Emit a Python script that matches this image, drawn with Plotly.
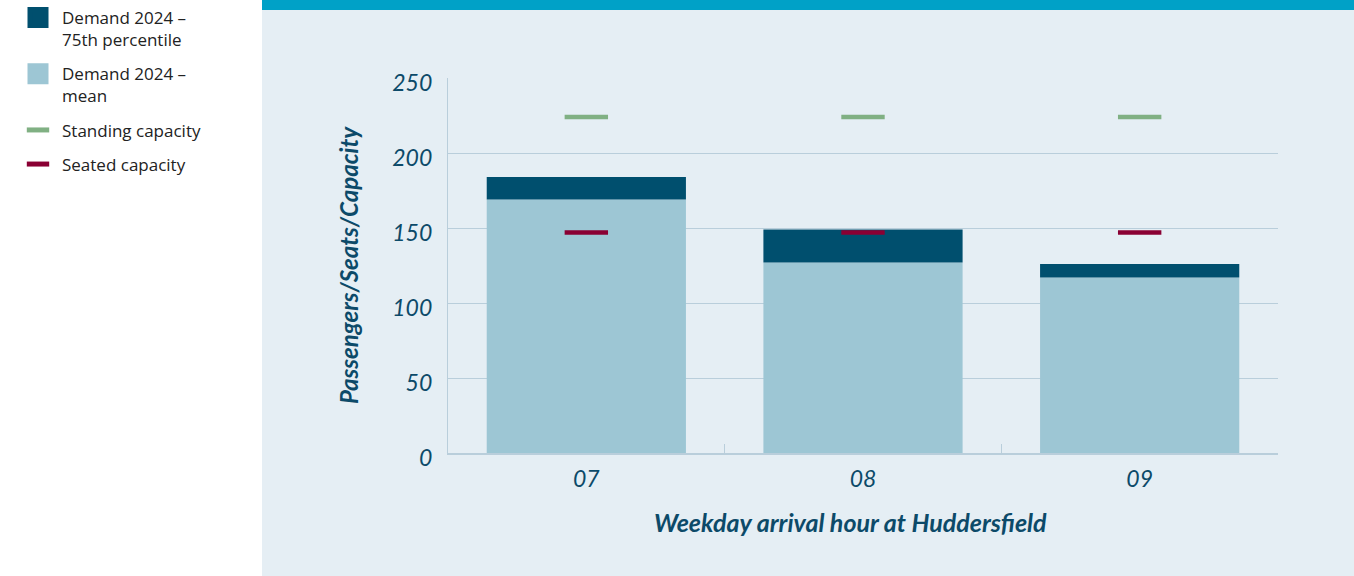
import plotly.graph_objects as go

hours = ["07", "08", "09"]
demand_p75 = [184, 149, 126]
demand_mean = [169, 127, 117]
standing_capacity = [224, 224, 224]
seated_capacity = [147, 147, 147]
y_ticks = [0, 50, 100, 150, 200, 250]

C_DARK = "#004F6E"
C_LIGHT = "#9DC6D4"
C_STAND = "#80B083"
C_SEAT = "#8A0033"
C_BG = "#E5EEF4"
C_GRID = "#B9CEDB"
C_AXTXT = "#0C4A69"
FONT = "Lato, 'Open Sans', sans-serif"
LEGFONT = "'Open Sans', Lato, sans-serif"

# segment above the mean, up to the 75th percentile
p75_above_mean = [p - m for p, m in zip(demand_p75, demand_mean)]

fig = go.Figure()

fig.add_trace(go.Bar(x=hours, y=demand_mean, marker=dict(color=C_LIGHT, line=dict(width=0)),
                     width=0.72, showlegend=False, hoverinfo="y"))
fig.add_trace(go.Bar(x=hours, y=p75_above_mean, base=demand_mean,
                     marker=dict(color=C_DARK, line=dict(width=0)),
                     width=0.72, showlegend=False, customdata=demand_p75,
                     hovertemplate="%{customdata}<extra></extra>"))
fig.add_trace(go.Scatter(x=hours, y=standing_capacity, mode="markers",
                         marker=dict(symbol="line-ew", size=31, line=dict(width=4.5, color=C_STAND)),
                         showlegend=False))
fig.add_trace(go.Scatter(x=hours, y=seated_capacity, mode="markers",
                         marker=dict(symbol="line-ew", size=31, line=dict(width=4.5, color=C_SEAT)),
                         showlegend=False))

leg = [
    ("Demand 2024 –<br>75th percentile", "square", C_DARK, 16, 5),
    ("Demand 2024 –<br>mean", "square", C_LIGHT, 16, 5),
    ("Standing capacity", "line-ew", C_STAND, 16, 5),
    ("Seated capacity", "line-ew", C_SEAT, 16, 5),
]
for i, (name, sym, col, sz, lw) in enumerate(leg):
    fig.add_trace(go.Scatter(x=[None], y=[None], mode="markers", name=name,
                             legendgroup=f"g{i}",
                             marker=dict(symbol=sym, size=sz, color=col,
                                         line=dict(width=lw, color=col))))

W, H = 1354, 576
L, R, T, B = 448, 76, 78, 123
pw, ph = W - L - R, H - T - B

def px_x(p):
    return (p - L) / pw

def px_y(p):
    return (H - B - p) / ph

fig.update_layout(
    width=W, height=H,
    margin=dict(l=L, r=R, t=T, b=B, autoexpand=False),
    barmode="overlay",
    paper_bgcolor=C_BG,
    plot_bgcolor=C_BG,
    font=dict(family=FONT, color=C_AXTXT),
    showlegend=True,
    legend=dict(
        x=px_x(14), y=px_y(0), xanchor="left", yanchor="top",
        bgcolor="rgba(0,0,0,0)",
        font=dict(family=LEGFONT, size=17, color="#222222"),
        traceorder="grouped",
        tracegroupgap=9,
        itemsizing="trace",
        itemwidth=38,
        valign="top",
    ),
    xaxis=dict(
        type="category",
        range=[-0.5, 2.5],
        showgrid=False,
        showline=True, linecolor=C_GRID, linewidth=1.5,
        ticks="inside", tickson="boundaries", ticklen=9, tickcolor=C_GRID,
        ticklabelstandoff=5,
        tickfont=dict(family=FONT, size=23, color=C_AXTXT, style="italic"),
        title=dict(text="<b><i>Weekday arrival hour at Huddersfield</i></b>" + "&nbsp;" * 4,
                   font=dict(family=FONT, size=25, color=C_AXTXT), standoff=23),
        fixedrange=True,
    ),
    yaxis=dict(
        range=[0, 250],
        tickvals=y_ticks,
        showgrid=True, gridcolor=C_GRID, gridwidth=1.2,
        showline=True, linecolor=C_GRID, linewidth=1.2,
        zeroline=False,
        ticks="", ticklabelstandoff=10, ticklabelshift=5,
        tickfont=dict(family=FONT, size=23, color=C_AXTXT, style="italic"),
        title=dict(text="<b><i>Passengers/Seats/Capacity</i></b>",
                   font=dict(family=FONT, size=24, color=C_AXTXT), standoff=26),
        fixedrange=True,
    ),
    shapes=[
        dict(type="rect", xref="paper", yref="paper", layer="below",
             x0=px_x(0), x1=px_x(262), y0=px_y(H), y1=px_y(0),
             fillcolor="white", line=dict(width=0)),
        dict(type="rect", xref="paper", yref="paper", layer="below",
             x0=px_x(262), x1=px_x(W), y0=px_y(10), y1=px_y(0),
             fillcolor="#00A1C7", line=dict(width=0)),
    ],
)

fig.write_html("out.html", config={"displayModeBar": False},
               post_script="document.body.style.margin='0';document.body.style.padding='0';")
